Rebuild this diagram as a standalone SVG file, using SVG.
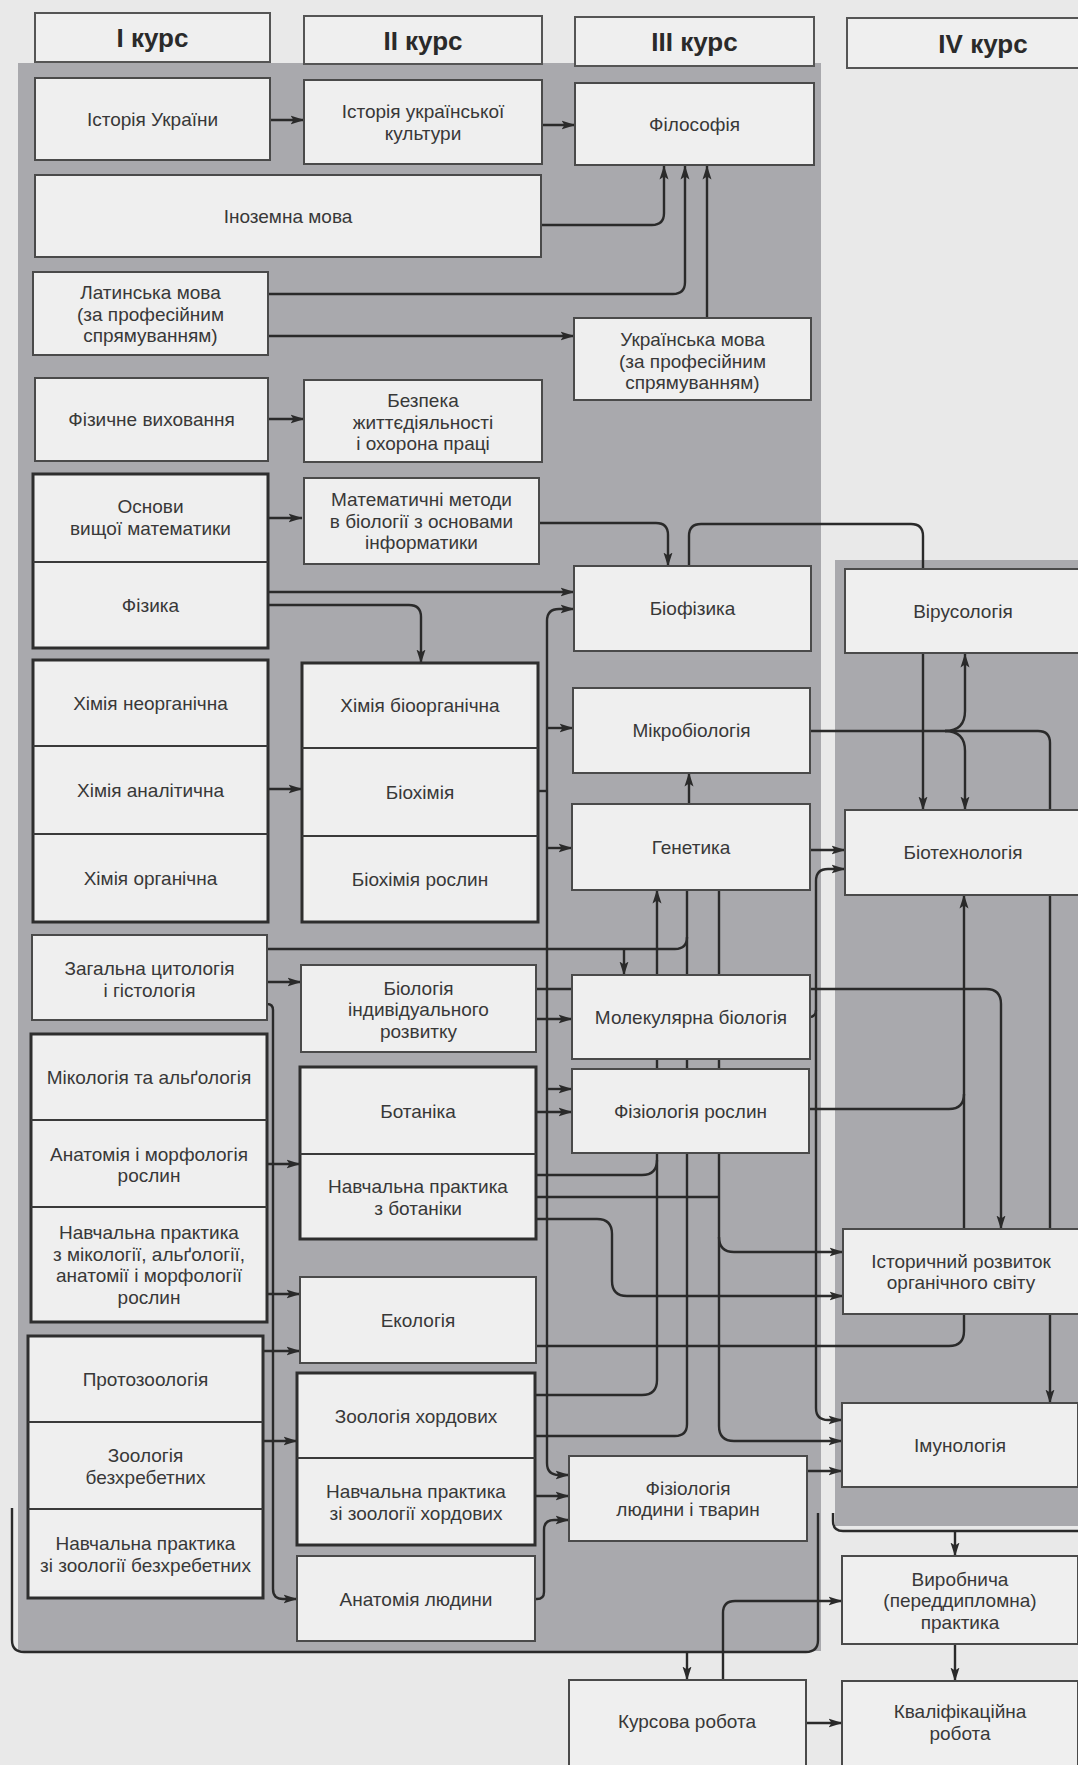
<svg xmlns="http://www.w3.org/2000/svg" width="1078" height="1765" viewBox="0 0 1078 1765">
<style>
.bg{fill:#e9e9e9}
.zone{fill:#a9a9ad}
.box{fill:#efefef;stroke:#4a4a4a;stroke-width:2}
.grp{fill:#efefef;stroke:#2e2e2e;stroke-width:3}
.dv{stroke:#3a3a3a;stroke-width:2}
.hdr{fill:#efefef;stroke:#555;stroke-width:2}
text{font-family:"Liberation Sans",Arial,sans-serif;fill:#383838;text-anchor:middle}
.t{font-size:19px}
.h{font-size:26px;font-weight:bold;fill:#2a2a2a}
.c{fill:none;stroke:#2a2a2a;stroke-width:2.4}
.a{marker-end:url(#ah)}
</style>
<defs>
<marker id="ah" viewBox="0 0 14 10" refX="13.5" refY="5" markerWidth="14" markerHeight="10" markerUnits="userSpaceOnUse" orient="auto"><path d="M0,0.5 L14,5 L0,9.5 L3,5 z" fill="#2a2a2a"/></marker>
</defs>
<rect class="bg" x="0" y="0" width="1078" height="1765"/>
<g id="zones">
<rect class="zone" x="18" y="63" width="803" height="1588"/>
<rect class="zone" x="835" y="560" width="243" height="966"/>
</g>
<g id="headers">
<g id="h1"><rect class="hdr" x="35" y="13" width="235" height="49"/><text class="h" x="152.5" y="47">I курс</text></g>
<g id="h2"><rect class="hdr" x="304" y="16" width="238" height="48"/><text class="h" x="423" y="50">II курс</text></g>
<g id="h3"><rect class="hdr" x="575" y="17" width="239" height="49"/><text class="h" x="694.5" y="51">III курс</text></g>
<g id="h4"><rect class="hdr" x="847" y="18" width="272" height="50"/><text class="h" x="983" y="53">IV курс</text></g>
</g>
<g id="connectors">
<path class="c a" d="M270,120 H304"/>
<path class="c a" d="M542,125 H575"/>
<path class="c a" d="M541,225 H652 Q664,225 664,213 V166"/>
<path class="c a" d="M268,294 H673 Q685,294 685,282 V166"/>
<path class="c a" d="M268,336 H574"/>
<path class="c a" d="M707,318 V166"/>
<path class="c a" d="M268,419 H304"/>
<path class="c a" d="M268,518 H302"/>
<path class="c a" d="M268,592 H574"/>
<path class="c a" d="M268,605 H409 Q421,605 421,617 V663"/>
<path class="c a" d="M538,523 H656 Q668,523 668,535 V566"/>
<path class="c a" d="M689,566 V536 Q689,524 701,524 H911 Q923,524 923,536 V810"/>
<path class="c a" d="M268,789 H302"/>
<path class="c" d="M538,791 H547"/>
<path class="c a" d="M547,1463 V621 Q547,609 559,609 H574"/>
<path class="c a" d="M547,1463 Q547,1475 559,1475 H569"/>
<path class="c a" d="M547,728 H573"/>
<path class="c a" d="M547,848 H572"/>
<path class="c a" d="M536,1019 H572"/>
<path class="c a" d="M547,1089 H572"/>
<path class="c a" d="M536,1112 H572"/>
<path class="c a" d="M810,731 H1038 Q1050,731 1050,743 V1403"/>
<path class="c a" d="M945,731 Q965,731 965,711 V654"/>
<path class="c a" d="M945,731 Q965,731 965,751 V810"/>
<path class="c a" d="M689,804 V773"/>
<path class="c a" d="M810,850 H845"/>
<path class="c a" d="M809,1017 Q816,1017 816,1010 V881 Q816,869 828,869 H845"/>
<path class="c a" d="M816,1010 V1408 Q816,1420 828,1420 H842"/>
<path class="c a" d="M267,982 H301"/>
<path class="c" d="M267,949 H675 Q687,949 687,937 V890"/>
<path class="c a" d="M624,949 V975"/>
<path class="c" d="M535,1436 H675 Q687,1436 687,1424 V937"/>
<path class="c a" d="M535,1395 H642 Q657,1395 657,1380 V890"/>
<path class="c" d="M536,1175 H642 Q657,1175 657,1160"/>
<path class="c" d="M536,1197 H719"/>
<path class="c a" d="M719,890 V1237 Q719,1252 734,1252 H843"/>
<path class="c a" d="M719,1237 V1426 Q719,1441 734,1441 H842"/>
<path class="c a" d="M536,1219 H597 Q612,1219 612,1234 V1281 Q612,1296 627,1296 H843"/>
<path class="c" d="M809,1109 H949 Q964,1109 964,1094"/>
<path class="c a" d="M536,1346 H949 Q964,1346 964,1331 V895"/>
<path class="c a" d="M536,989 H986 Q1001,989 1001,1004 V1229"/>
<path class="c a" d="M267,1004 Q273,1004 273,1010 V1589 Q273,1599 283,1599 H297"/>
<path class="c a" d="M267,1164 H300"/>
<path class="c a" d="M267,1294 H300"/>
<path class="c a" d="M263,1351 H300"/>
<path class="c a" d="M263,1441 H297"/>
<path class="c a" d="M535,1496 H569"/>
<path class="c a" d="M535,1599 H537 Q544,1599 544,1592 V1530 Q544,1520 554,1520 H569"/>
<path class="c a" d="M807,1471 H842"/>
<path class="c" d="M12,1508 V1640 Q12,1652 24,1652 H806 Q818,1652 818,1640 V1513"/>
<path class="c a" d="M687,1652 V1680"/>
<path class="c" d="M833,1513 V1521 Q833,1531 843,1531 H1078"/>
<path class="c a" d="M955,1531 V1556"/>
<path class="c a" d="M955,1644 V1681"/>
<path class="c a" d="M723,1680 V1613 Q723,1601 735,1601 H842"/>
<path class="c a" d="M806,1723 H842"/>
</g>
<g id="n1"><rect class="box" x="35" y="78" width="235" height="82"/><text class="t" x="152.5" y="126">Історія України</text></g>
<g id="n2"><rect class="box" x="304" y="80" width="238" height="84"/><text class="t"><tspan x="423" y="118">Історія української</tspan><tspan x="423" y="139.5">культури</tspan></text></g>
<g id="n3"><rect class="box" x="575" y="83" width="239" height="82"/><text class="t" x="694.5" y="131">Філософія</text></g>
<g id="n4"><rect class="box" x="35" y="175" width="506" height="82"/><text class="t" x="288" y="223">Іноземна мова</text></g>
<g id="n5"><rect class="box" x="33" y="272" width="235" height="83"/><text class="t"><tspan x="150.5" y="299">Латинська мова</tspan><tspan x="150.5" y="320.5">(за професійним</tspan><tspan x="150.5" y="342">спрямуванням)</tspan></text></g>
<g id="n6"><rect class="box" x="574" y="318" width="237" height="82"/><text class="t"><tspan x="692.5" y="346">Українська мова</tspan><tspan x="692.5" y="367.5">(за професійним</tspan><tspan x="692.5" y="389">спрямуванням)</tspan></text></g>
<g id="n7"><rect class="box" x="35" y="378" width="233" height="83"/><text class="t" x="151.5" y="426">Фізичне виховання</text></g>
<g id="n8"><rect class="box" x="304" y="380" width="238" height="82"/><text class="t"><tspan x="423" y="407">Безпека</tspan><tspan x="423" y="428.5">життєдіяльності</tspan><tspan x="423" y="450">і охорона праці</tspan></text></g>
<g id="n9"><rect class="grp" x="33" y="474" width="235" height="174"/><line class="dv" x1="33" y1="562" x2="268" y2="562"/><text class="t"><tspan x="150.5" y="513">Основи</tspan><tspan x="150.5" y="535">вищої математики</tspan></text><text class="t" x="150.5" y="612">Фізика</text></g>
<g id="n10"><rect class="box" x="304" y="478" width="235" height="86"/><text class="t"><tspan x="421.5" y="506">Математичні методи</tspan><tspan x="421.5" y="527.5">в біології з основами</tspan><tspan x="421.5" y="549">інформатики</tspan></text></g>
<g id="n11"><rect class="box" x="574" y="566" width="237" height="85"/><text class="t" x="692.5" y="615">Біофізика</text></g>
<g id="n12"><rect class="box" x="845" y="569" width="236" height="84"/><text class="t" x="963" y="618">Вірусологія</text></g>
<g id="n13"><rect class="grp" x="33" y="660" width="235" height="262"/><line class="dv" x1="33" y1="746" x2="268" y2="746"/><line class="dv" x1="33" y1="834" x2="268" y2="834"/><text class="t" x="150.5" y="710">Хімія неорганічна</text><text class="t" x="150.5" y="797">Хімія аналітична</text><text class="t" x="150.5" y="885">Хімія органічна</text></g>
<g id="n14"><rect class="grp" x="302" y="663" width="236" height="259"/><line class="dv" x1="302" y1="748" x2="538" y2="748"/><line class="dv" x1="302" y1="836" x2="538" y2="836"/><text class="t" x="420" y="712">Хімія біоорганічна</text><text class="t" x="420" y="799">Біохімія</text><text class="t" x="420" y="886">Біохімія рослин</text></g>
<g id="n15"><rect class="box" x="573" y="688" width="237" height="85"/><text class="t" x="691.5" y="737">Мікробіологія</text></g>
<g id="n16"><rect class="box" x="572" y="804" width="238" height="86"/><text class="t" x="691" y="854">Генетика</text></g>
<g id="n17"><rect class="box" x="845" y="810" width="236" height="85"/><text class="t" x="963" y="859">Біотехнологія</text></g>
<g id="n18"><rect class="box" x="32" y="935" width="235" height="85"/><text class="t"><tspan x="149.5" y="975">Загальна цитологія</tspan><tspan x="149.5" y="996.5">і гістологія</tspan></text></g>
<g id="n19"><rect class="box" x="301" y="965" width="235" height="87"/><text class="t"><tspan x="418.5" y="994.5">Біологія</tspan><tspan x="418.5" y="1016">індивідуального</tspan><tspan x="418.5" y="1037.5">розвитку</tspan></text></g>
<g id="n20"><rect class="box" x="572" y="975" width="238" height="84"/><text class="t" x="691" y="1024">Молекулярна біологія</text></g>
<g id="n21"><rect class="box" x="572" y="1069" width="237" height="84"/><text class="t" x="690.5" y="1118">Фізіологія рослин</text></g>
<g id="n22"><rect class="grp" x="31" y="1034" width="236" height="288"/><line class="dv" x1="31" y1="1120" x2="267" y2="1120"/><line class="dv" x1="31" y1="1207" x2="267" y2="1207"/><text class="t" x="149" y="1084">Мікологія та альґологія</text><text class="t"><tspan x="149" y="1160.5">Анатомія і морфологія</tspan><tspan x="149" y="1182">рослин</tspan></text><text class="t"><tspan x="149" y="1239">Навчальна практика</tspan><tspan x="149" y="1260.5">з мікології, альґології,</tspan><tspan x="149" y="1282">анатомії і морфології</tspan><tspan x="149" y="1303.5">рослин</tspan></text></g>
<g id="n23"><rect class="grp" x="300" y="1067" width="236" height="172"/><line class="dv" x1="300" y1="1154" x2="536" y2="1154"/><text class="t" x="418" y="1118">Ботаніка</text><text class="t"><tspan x="418" y="1193">Навчальна практика</tspan><tspan x="418" y="1214.5">з ботаніки</tspan></text></g>
<g id="n24"><rect class="box" x="843" y="1229" width="236" height="85"/><text class="t"><tspan x="961" y="1267.5">Історичний розвиток</tspan><tspan x="961" y="1289">органічного світу</tspan></text></g>
<g id="n25"><rect class="box" x="300" y="1277" width="236" height="86"/><text class="t" x="418" y="1327">Екологія</text></g>
<g id="n26"><rect class="grp" x="28" y="1336" width="235" height="262"/><line class="dv" x1="28" y1="1422" x2="263" y2="1422"/><line class="dv" x1="28" y1="1509" x2="263" y2="1509"/><text class="t" x="145.5" y="1386">Протозоологія</text><text class="t"><tspan x="145.5" y="1462">Зоологія</tspan><tspan x="145.5" y="1483.5">безхребетних</tspan></text><text class="t"><tspan x="145.5" y="1550">Навчальна практика</tspan><tspan x="145.5" y="1571.5">зі зоології безхребетних</tspan></text></g>
<g id="n27"><rect class="grp" x="297" y="1373" width="238" height="172"/><line class="dv" x1="297" y1="1458" x2="535" y2="1458"/><text class="t" x="416" y="1422.5">Зоологія хордових</text><text class="t"><tspan x="416" y="1498">Навчальна практика</tspan><tspan x="416" y="1519.5">зі зоології хордових</tspan></text></g>
<g id="n28"><rect class="box" x="842" y="1403" width="236" height="84"/><text class="t" x="960" y="1452">Імунологія</text></g>
<g id="n29"><rect class="box" x="569" y="1456" width="238" height="85"/><text class="t"><tspan x="688" y="1494.5">Фізіологія</tspan><tspan x="688" y="1516">людини і тварин</tspan></text></g>
<g id="n30"><rect class="box" x="297" y="1556" width="238" height="85"/><text class="t" x="416" y="1606">Анатомія людини</text></g>
<g id="n31"><rect class="box" x="842" y="1556" width="236" height="88"/><text class="t"><tspan x="960" y="1585.5">Виробнича</tspan><tspan x="960" y="1607">(переддипломна)</tspan><tspan x="960" y="1628.5">практика</tspan></text></g>
<g id="n32"><rect class="box" x="569" y="1680" width="237" height="95"/><text class="t" x="687" y="1728">Курсова робота</text></g>
<g id="n33"><rect class="box" x="842" y="1681" width="236" height="95"/><text class="t"><tspan x="960" y="1718">Кваліфікаційна</tspan><tspan x="960" y="1740">робота</tspan></text></g>
</svg>
